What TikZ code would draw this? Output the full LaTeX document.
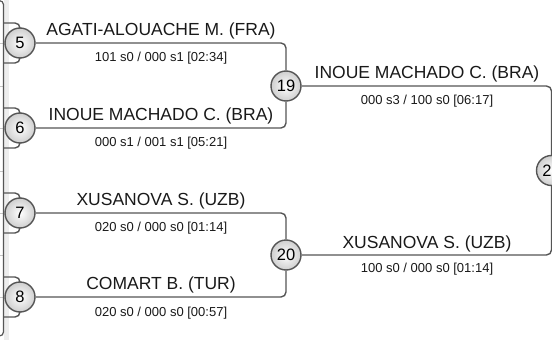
\documentclass[tikz,border=0pt]{standalone}
\usepackage{fontspec}
\setmainfont{Liberation Sans}
\usetikzlibrary{backgrounds}
\begin{document}
\begin{tikzpicture}[x=1pt,y=-1pt,
  conn/.style={draw=linegray,line width=1.4pt,rounded corners=5pt},
  seed/.style={circle,draw=linegray,line width=1.4pt,minimum size=30pt,inner sep=0pt,
    shading=radial,inner color=white,outer color=gray!38,font=\fontsize{16.5}{16}\selectfont},
  pname/.style={anchor=base,inner sep=0pt,font=\fontsize{17.5}{18}\selectfont,text=black!90},
  pscore/.style={anchor=base,inner sep=0pt,font=\fontsize{13}{14}\selectfont,text=black!90},
  ghost/.style={draw=gray!45,line width=0.8pt}]
\definecolor{linegray}{HTML}{555555}
\useasboundingbox (0,0) rectangle (552,340);
\clip (0,0) rectangle (552,340);
% seeds
\node[seed] (c5) at (20,43) {5};
\node[seed] (c6) at (20,128) {6};
\node[seed] (c7) at (20,213) {7};
\node[seed] (c8) at (20,297) {8};
\node[seed] (c19) at (286,86) {19};
\node[seed] (c20) at (286,255) {20};
\node[seed] (c21) at (551.5,170.5) {21};
\begin{scope}[on background layer]
% left panel edge
\fill[gray!14] (3.5,0) rectangle (9,340);
\foreach \yy in {43,86,128,171,213,255,297}{\draw[ghost] (0,\yy) -- (3,\yy);}
\draw[linegray,line width=1.2pt,rounded corners=4pt] (-2,0.6) -- (3.5,0.6) -- (3.5,336) -- (-2,336);
% incoming stubs
\foreach \c/\yy in {c5/43,c6/128,c7/213,c8/297}{
  \coordinate (\c a) at (4,\yy-20);
  \coordinate (\c b) at (4,\yy+20);
  \draw[conn] (\c a) -| (\c.north);
  \draw[conn] (\c b) -| (\c.south);
}
% connectors
\draw[conn] (c5.east) -| (c19.north);
\draw[conn] (c6.east) -| (c19.south);
\draw[conn] (c7.east) -| (c20.north);
\draw[conn] (c8.east) -| (c20.south);
\draw[conn] (c19.east) -| (c21.north);
\draw[conn] (c20.east) -| (c21.south);
\end{scope}
% labels
\node[pname] (n5) at (161,35.5) {AGATI-ALOUACHE M. (FRA)};
\node[pscore] (s5) at (161,61.5) {101 s0 / 000 s1 [02:34]};
\node[pname] (n6) at (161,120.5) {INOUE MACHADO C. (BRA)};
\node[pscore] (s6) at (161,146.5) {000 s1 / 001 s1 [05:21]};
\node[pname] (n7) at (161,205.5) {XUSANOVA S. (UZB)};
\node[pscore] (s7) at (161,231) {020 s0 / 000 s0 [01:14]};
\node[pname] (n8) at (161,289.5) {COMART B. (TUR)};
\node[pscore] (s8) at (161,316) {020 s0 / 000 s0 [00:57]};
\node[pname] (n19) at (427,78.5) {INOUE MACHADO C. (BRA)};
\node[pscore] (s19) at (427,104.5) {000 s3 / 100 s0 [06:17]};
\node[pname] (n20) at (427,248) {XUSANOVA S. (UZB)};
\node[pscore] (s20) at (427,272.5) {100 s0 / 000 s0 [01:14]};
\end{tikzpicture}
\end{document}
